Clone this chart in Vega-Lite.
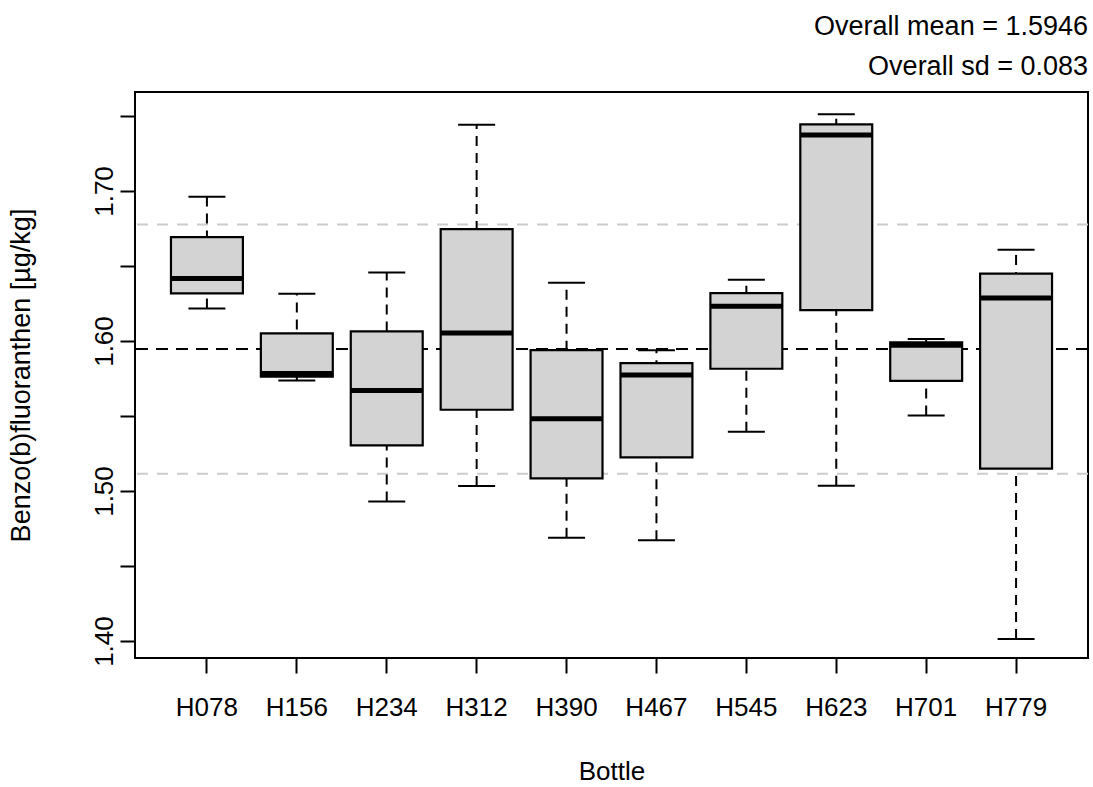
{
  "$schema": "https://vega.github.io/schema/vega-lite/v6.json",
  "width": 953,
  "height": 566,
  "autosize": {"type": "none"},
  "padding": {"left": 135, "top": 92, "right": 5, "bottom": 129},
  "background": "white",
  "title": {
    "text": "Overall mean = 1.5946",
    "subtitle": "Overall sd = 0.083",
    "anchor": "end",
    "frame": "group",
    "offset": 11,
    "subtitlePadding": 13
  },
  "datasets": {
    "boxes": [
      {"bottle": "H078", "lower": 1.6217, "q1": 1.6317, "median": 1.6417, "q3": 1.6693, "upper": 1.6962},
      {"bottle": "H156", "lower": 1.5737, "q1": 1.5762, "median": 1.5784, "q3": 1.6051, "upper": 1.6315},
      {"bottle": "H234", "lower": 1.4931, "q1": 1.5304, "median": 1.5671, "q3": 1.6064, "upper": 1.6457},
      {"bottle": "H312", "lower": 1.5033, "q1": 1.5542, "median": 1.6053, "q3": 1.6746, "upper": 1.7442},
      {"bottle": "H390", "lower": 1.4689, "q1": 1.5084, "median": 1.5482, "q3": 1.5939, "upper": 1.6389},
      {"bottle": "H467", "lower": 1.4672, "q1": 1.5224, "median": 1.5773, "q3": 1.5853, "upper": 1.5939},
      {"bottle": "H545", "lower": 1.5395, "q1": 1.5815, "median": 1.6231, "q3": 1.6319, "upper": 1.6409},
      {"bottle": "H623", "lower": 1.5035, "q1": 1.6206, "median": 1.7373, "q3": 1.7444, "upper": 1.7511},
      {"bottle": "H701", "lower": 1.5504, "q1": 1.5735, "median": 1.5971, "q3": 1.5991, "upper": 1.6013},
      {"bottle": "H779", "lower": 1.4014, "q1": 1.5149, "median": 1.6286, "q3": 1.6449, "upper": 1.6609}
    ],
    "refs": [
      {"kind": "sd", "value": 1.6776},
      {"kind": "sd", "value": 1.5116},
      {"kind": "mean", "value": 1.5946}
    ]
  },
  "encoding": {
    "x": {
      "field": "bottle",
      "type": "nominal",
      "title": "Bottle",
      "scale": {"paddingInner": 0.2, "paddingOuter": 0.4},
      "axis": {"labelAngle": 0, "labelPadding": 21, "titlePadding": 38}
    }
  },
  "layer": [
    {
      "data": {"name": "refs"},
      "transform": [{"filter": "datum.kind == 'sd'"}],
      "mark": {"type": "rule", "color": "#cccccc", "strokeWidth": 2, "strokeDash": [11, 9]},
      "encoding": {"x": null, "y": {"field": "value", "type": "quantitative"}}
    },
    {
      "data": {"name": "refs"},
      "transform": [{"filter": "datum.kind == 'mean'"}],
      "mark": {"type": "rule", "color": "black", "strokeWidth": 2, "strokeDash": [12, 8]},
      "encoding": {"x": null, "y": {"field": "value", "type": "quantitative"}}
    },
    {
      "data": {"name": "boxes"},
      "mark": {"type": "rule", "color": "black", "strokeWidth": 2, "strokeDash": [10, 7]},
      "encoding": {
        "y": {
          "field": "lower",
          "type": "quantitative",
          "title": "Benzo(b)fluoranthen [µg/kg]",
          "scale": {"domain": [1.3887, 1.766], "nice": false, "zero": false},
          "axis": {
            "values": [1.4, 1.45, 1.5, 1.55, 1.6, 1.65, 1.7, 1.75],
            "labelExpr": "round(datum.value * 100) % 10 == 0 ? format(datum.value, '.2f') : ''",
            "labelAngle": -90,
            "labelPadding": 3,
            "titlePadding": 56,
            "titleFontSize": 27,
            "grid": false
          }
        },
        "y2": {"field": "upper"}
      }
    },
    {
      "data": {"name": "boxes"},
      "mark": {"type": "bar", "fill": "#d3d3d3", "stroke": "black", "strokeWidth": 2.2, "opacity": 1},
      "encoding": {
        "y": {"field": "q1", "type": "quantitative"},
        "y2": {"field": "q3"}
      }
    },
    {
      "data": {"name": "boxes"},
      "mark": {"type": "tick", "orient": "horizontal", "color": "black", "opacity": 1, "size": 72, "thickness": 5},
      "encoding": {"y": {"field": "median", "type": "quantitative"}}
    },
    {
      "data": {"name": "boxes"},
      "mark": {"type": "tick", "orient": "horizontal", "color": "black", "opacity": 1, "size": 37, "thickness": 2},
      "encoding": {"y": {"field": "upper", "type": "quantitative"}}
    },
    {
      "data": {"name": "boxes"},
      "mark": {"type": "tick", "orient": "horizontal", "color": "black", "opacity": 1, "size": 37, "thickness": 2},
      "encoding": {"y": {"field": "lower", "type": "quantitative"}}
    }
  ],
  "config": {
    "font": "Liberation Sans",
    "view": {"stroke": "black", "strokeWidth": 2},
    "axis": {
      "domain": false,
      "grid": false,
      "ticks": true,
      "tickColor": "black",
      "tickWidth": 2,
      "tickSize": 15,
      "labelFont": "Liberation Sans",
      "labelFontSize": 26,
      "labelColor": "black",
      "titleFont": "Liberation Sans",
      "titleFontSize": 26,
      "titleFontWeight": "normal",
      "titleColor": "black"
    },
    "title": {
      "font": "Liberation Sans",
      "fontSize": 27,
      "fontWeight": "normal",
      "color": "black",
      "subtitleFont": "Liberation Sans",
      "subtitleFontSize": 27,
      "subtitleColor": "black"
    }
  }
}
